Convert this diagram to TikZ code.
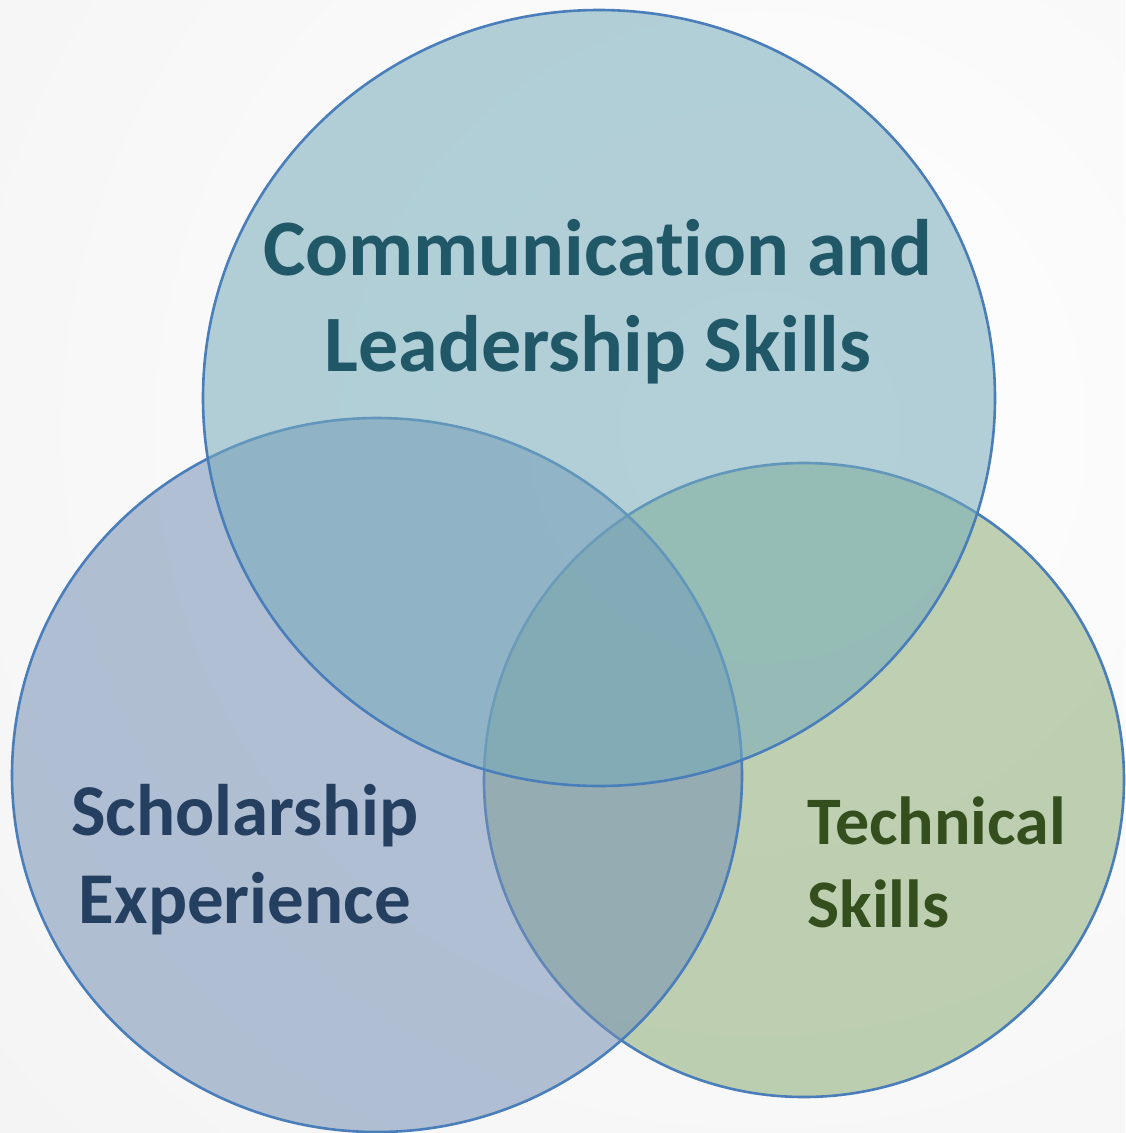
\documentclass[tikz,border=0pt]{standalone}
\usepackage{fontspec}
\setmainfont{Carlito}[Ligatures=NoCommon]
\definecolor{ringblue}{HTML}{4A7EBB}
\definecolor{commfill}{HTML}{76ABBB}
\definecolor{scholfill}{HTML}{7590B4}
\definecolor{techfill}{HTML}{8CAD75}
\definecolor{commtext}{HTML}{215868}
\definecolor{scholtext}{HTML}{243F60}
\definecolor{techtext}{HTML}{344F1D}
\tikzset{
    venn/.style={draw=ringblue, line width=2.6pt, fill opacity=0.55},
    skill/.style 2 args={inner sep=0pt, font=\bfseries\fontsize{#1}{#2}\selectfont},
}

\begin{document}
\begin{tikzpicture}[x=1pt,y=-1pt]
    \useasboundingbox (0,0) rectangle (1125,1133);
    \coordinate (CommCentre)  at (599,398);
    \coordinate (ScholCentre) at (377,775);
    \coordinate (TechCentre)  at (804,780);
    % soft grey backdrop
    \begin{scope}
        \clip (0,0) rectangle (1125,1133);
        \fill [white] (0,0) rectangle (1125,1133);
        \shade [inner color=white, outer color=gray!16] (760,430) circle (1900);
    \end{scope}
    % the three sets, lowest first
    \draw [venn, fill=techfill]  (TechCentre)  ellipse (320 and 317);
    \draw [venn, fill=scholfill] (ScholCentre) ellipse (365 and 357);
    \draw [venn, fill=commfill]  (CommCentre)  ellipse (396 and 388);
    % set names
    \node [skill={80}{96}, align=center, text=commtext]  (CommLabel)  at (598,302) {Communication and\\Leadership Skills};
    \node [skill={73}{88}, align=center, text=scholtext] (ScholLabel) at (245,860) {Scholarship\\Experience};
    \node [skill={68}{83}, align=left, text=techtext, anchor=west] (TechLabel) at (807,862) {Technical\\Skills};
\end{tikzpicture}
\end{document}
